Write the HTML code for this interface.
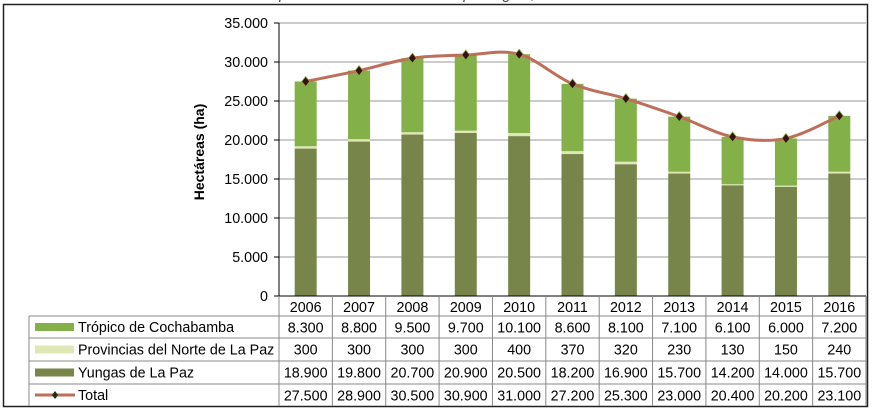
<!DOCTYPE html>
<html><head><meta charset="utf-8"><style>
body{margin:0;background:#fff;}
svg{display:block;font-family:"Liberation Sans",sans-serif;}
</style></head><body>
<svg id="s" width="872" height="410" xmlns="http://www.w3.org/2000/svg">
<rect width="872" height="410" fill="#fff"/>
<text x="436" y="-1" font-size="15" text-anchor="middle" font-style="italic" fill="#444">Superficie de cultivos de coca por región, 2006-2016</text>
<rect x="3.5" y="4.5" width="864" height="402" fill="none" stroke="#222" stroke-width="1.5"/>
<g id="g"></g>
</svg>
<script>
var years=[2006,2007,2008,2009,2010,2011,2012,2013,2014,2015,2016];
var tro=[8300,8800,9500,9700,10100,8600,8100,7100,6100,6000,7200];
var pro=[300,300,300,300,400,370,320,230,130,150,240];
var yun=[18900,19800,20700,20900,20500,18200,16900,15700,14200,14000,15700];
var tot=[27500,28900,30500,30900,31000,27200,25300,23000,20400,20200,23100];
function f(n){return n===0?"0":(n>=1000?Math.floor(n/1000)+"."+String(n%1000).padStart(3,"0"):String(n));}
var X0=279,X1=866,Y0=296,Yt=23,cw=(X1-X0)/11,FS=14.3;
function Y(v){return Y0-v*(Y0-Yt)/35000;}
var h="";
for(var i=0;i<=7;i++){var v=i*5000,y=Y(v);
 if(i>0)h+='<line x1="'+X0+'" x2="'+X1+'" y1="'+y+'" y2="'+y+'" stroke="#9a9a9a" stroke-width="1"/>';
 h+='<line x1="'+(X0-5)+'" x2="'+X0+'" y1="'+y+'" y2="'+y+'" stroke="#000"/>';
 h+='<text x="268" y="'+(y+5)+'" font-size="'+FS+'" text-anchor="end">'+f(v)+'</text>';}
h+='<text transform="translate(204,152) rotate(-90)" font-size="14" font-weight="bold" text-anchor="middle">Hectáreas (ha)</text>';
var bw=22,pts=[];
for(var i=0;i<11;i++){var cx=X0+cw*(i+0.5),x=cx-bw/2;
 var a=Y(yun[i]),b=Y(yun[i]+pro[i]),c=Y(tot[i]);
 h+='<rect x="'+x+'" y="'+a+'" width="'+bw+'" height="'+(Y0-a)+'" fill="#77854a"/>';
 h+='<rect x="'+x+'" y="'+b+'" width="'+bw+'" height="'+(a-b)+'" fill="#dfe8b5"/>';
 h+='<rect x="'+x+'" y="'+c+'" width="'+bw+'" height="'+(b-c)+'" fill="#84b04a"/>';
 pts.push([cx,c]);}
var d="M"+pts[0][0]+","+pts[0][1];
for(var i=0;i<pts.length-1;i++){var p0=pts[Math.max(i-1,0)],p1=pts[i],p2=pts[i+1],p3=pts[Math.min(i+2,pts.length-1)];
 d+=" C"+(p1[0]+(p2[0]-p0[0])/6)+","+(p1[1]+(p2[1]-p0[1])/6)+" "+(p2[0]-(p3[0]-p1[0])/6)+","+(p2[1]-(p3[1]-p1[1])/6)+" "+p2[0]+","+p2[1];}
h+='<path d="'+d+'" fill="none" stroke="#be6f5a" stroke-width="3"/>';
pts.forEach(function(p){h+='<polygon points="'+p[0]+','+(p[1]-5)+' '+(p[0]+4)+','+p[1]+' '+p[0]+','+(p[1]+5)+' '+(p[0]-4)+','+p[1]+'" fill="#3a1010" stroke="#84b04a" stroke-width="0.8"/>';});
h+='<line x1="'+X0+'" x2="'+X0+'" y1="'+Yt+'" y2="'+Y0+'" stroke="#000"/>';
var rows=[296,316,338,361,384,406];
var TL=29;
h+='<line x1="'+X0+'" x2="'+X1+'" y1="296" y2="296" stroke="#000"/>';
for(var r=1;r<5;r++)h+='<line x1="'+TL+'" x2="'+X1+'" y1="'+rows[r]+'" y2="'+rows[r]+'" stroke="#888"/>';
h+='<line x1="'+TL+'" x2="'+TL+'" y1="316" y2="406" stroke="#888"/>';
for(var i=0;i<=11;i++){var x=X0+cw*i;h+='<line x1="'+x+'" x2="'+x+'" y1="296" y2="406" stroke="#888"/>';}
var data=[tro,pro,yun,tot];
for(var i=0;i<11;i++){var cx=X0+cw*(i+0.5);
 h+='<text x="'+cx+'" y="312" font-size="'+FS+'" text-anchor="middle">'+years[i]+'</text>';
 for(var r=0;r<4;r++)h+='<text x="'+cx+'" y="'+(rows[r+1]+16.5)+'" font-size="'+FS+'" text-anchor="middle">'+f(data[r][i])+'</text>';}
var names=["Trópico de Cochabamba","Provincias del Norte de La Paz","Yungas de La Paz","Total"];
var cols=["#84b04a","#dfe8b5","#77854a"];
for(var r=0;r<4;r++){var ym=(rows[r+1]+rows[r+2])/2;
 if(r<3)h+='<rect x="35" y="'+(ym-4)+'" width="39" height="8" fill="'+cols[r]+'"/>';
 else{h+='<line x1="35" x2="75" y1="'+ym+'" y2="'+ym+'" stroke="#be6f5a" stroke-width="3"/><polygon points="55,'+(ym-4)+' 58,'+ym+' 55,'+(ym+4)+' 52,'+ym+'" fill="#1a3010"/>';}
 h+='<text x="78" y="'+(ym+5)+'" font-size="'+FS+'">'+names[r]+'</text>';}
document.getElementById("g").innerHTML=h;
</script>
</body></html>
